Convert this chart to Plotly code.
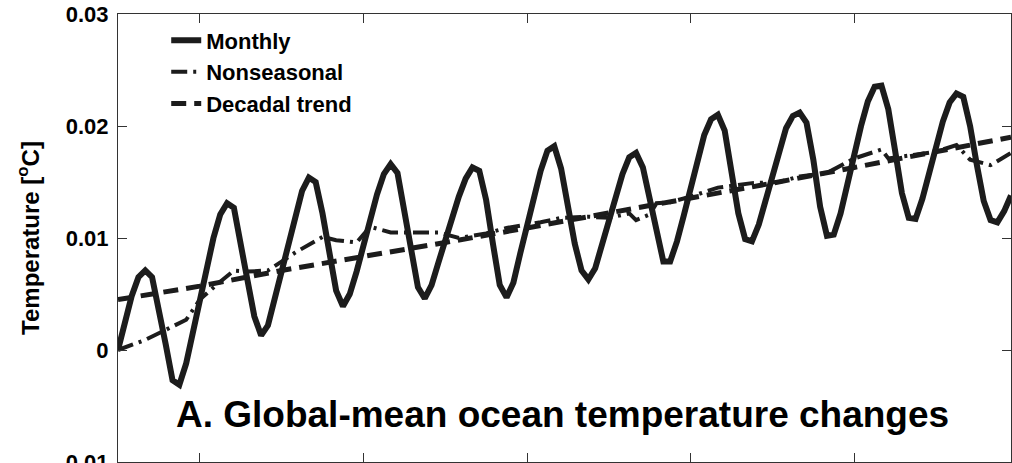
import plotly.graph_objects as go

# ---- data (months since start, temperature change in degC) ----
monthly_months = list(range(0, 132))
monthly_vals = [
    0.0000, 0.0025, 0.0048, 0.0065, 0.0071, 0.0065, 0.0038, 0.0005, -0.0027, -0.0031,
    -0.0012, 0.0015, 0.0045, 0.0074, 0.0100, 0.0121, 0.0131, 0.0127, 0.0097, 0.0062,
    0.0030, 0.0013, 0.0022, 0.0046, 0.0071, 0.0096, 0.0120, 0.0142, 0.0154, 0.0150,
    0.0122, 0.0087, 0.0053, 0.0039, 0.0050, 0.0070, 0.0093, 0.0117, 0.0139, 0.0157,
    0.0166, 0.0158, 0.0126, 0.0089, 0.0056, 0.0046, 0.0058, 0.0078, 0.0099, 0.0119,
    0.0137, 0.0153, 0.0163, 0.0160, 0.0134, 0.0095, 0.0058, 0.0047, 0.0060, 0.0086,
    0.0111, 0.0137, 0.0160, 0.0178, 0.0182, 0.0162, 0.0128, 0.0095, 0.0071, 0.0063,
    0.0073, 0.0094, 0.0116, 0.0138, 0.0157, 0.0172, 0.0176, 0.0163, 0.0134, 0.0102,
    0.0079, 0.0079, 0.0097, 0.0120, 0.0145, 0.0170, 0.0192, 0.0206, 0.0210, 0.0196,
    0.0160, 0.0122, 0.0099, 0.0097, 0.0112, 0.0133, 0.0156, 0.0179, 0.0198, 0.0209,
    0.0212, 0.0203, 0.0170, 0.0128, 0.0102, 0.0103, 0.0122, 0.0148, 0.0175, 0.0200,
    0.0222, 0.0235, 0.0236, 0.0215, 0.0178, 0.0140, 0.0118, 0.0117, 0.0135, 0.0158,
    0.0182, 0.0204, 0.0221, 0.0229, 0.0226, 0.0200, 0.0165, 0.0133, 0.0116, 0.0114,
    0.0124, 0.0138,
]

nonseasonal_months = [0, 4, 10, 12, 15, 17, 19, 22, 26, 30, 32, 35, 37, 40, 43, 47,
                      50, 54, 57, 62, 65, 69, 72, 75, 76, 78, 79, 81, 84, 88, 93, 97,
                      100, 104, 108, 112, 113, 117, 120, 123, 125, 128, 131]
nonseasonal_vals = [0.0000, 0.0009, 0.0027, 0.0045, 0.0061, 0.0071, 0.0070, 0.0071,
                    0.0087, 0.0101, 0.0098, 0.0096, 0.0110, 0.0105, 0.0105, 0.0105,
                    0.0100, 0.0104, 0.0109, 0.0114, 0.0118, 0.0119, 0.0118, 0.0122,
                    0.0116, 0.0121, 0.0131, 0.0132, 0.0137, 0.0145, 0.0149, 0.0150,
                    0.0155, 0.0158, 0.0171, 0.0179, 0.0171, 0.0174, 0.0177, 0.0183,
                    0.0170, 0.0165, 0.0176]

trend_months = [0, 12, 24, 36, 48, 60, 72, 84, 96, 108, 120, 131]
trend_vals = [0.0045, 0.0057, 0.0071, 0.0083, 0.0096, 0.0109, 0.0122, 0.0135,
              0.0149, 0.0163, 0.0177, 0.0190]

y_ticks = [-0.01, 0, 0.01, 0.02, 0.03]
y_tick_labels = ["-0.01", "0", "0.01", "0.02", "0.03"]
x_ticks = [12, 36, 60, 84, 108]

title_text = "A. Global-mean ocean temperature changes"
y_title = "Temperature [<sup>o</sup>C]"

FONT = "Liberation Sans, Arial, Helvetica, sans-serif"
INK = "#1c1c1c"

fig = go.Figure()
fig.add_trace(go.Scatter(
    x=monthly_months, y=monthly_vals, mode="lines", name="Monthly",
    line=dict(color=INK, width=6, shape="linear"),
))
fig.add_trace(go.Scatter(
    x=nonseasonal_months, y=nonseasonal_vals, mode="lines", name="Nonseasonal",
    line=dict(color=INK, width=4, dash="16px,6px,3px,6px"),
))
fig.add_trace(go.Scatter(
    x=trend_months, y=trend_vals, mode="lines", name="Decadal trend",
    line=dict(color=INK, width=5, dash="15px,8px"),
))

fig.add_annotation(
    x=65.2, y=-0.0058, xref="x", yref="y", text=title_text, showarrow=False,
    font=dict(family=FONT, size=37, color="black", weight="bold"),
    xanchor="center", yanchor="middle",
)

fig.update_layout(
    width=1012, height=463,
    margin=dict(l=118, r=1, t=14, b=1, autoexpand=False),
    paper_bgcolor="white", plot_bgcolor="white",
    font=dict(family=FONT, color="black"),
    showlegend=True,
    legend=dict(
        x=0.054, y=0.988, xanchor="left", yanchor="top",
        bgcolor="rgba(255,255,255,0)", borderwidth=0,
        font=dict(family=FONT, size=22, color="black", weight="bold"),
        tracegroupgap=0,
    ),
)
fig.update_xaxes(
    range=[0, 131], showgrid=False, zeroline=False,
    showline=True, linecolor="#333", linewidth=1, mirror="ticks",
    ticks="inside", ticklen=9, tickcolor="#333", tickvals=x_ticks,
    showticklabels=False, automargin=False,
)
fig.update_yaxes(
    range=[-0.01, 0.03], showgrid=False, zeroline=False,
    showline=True, linecolor="#333", linewidth=1, mirror="ticks",
    ticks="inside", ticklen=9, tickcolor="#333",
    tickvals=y_ticks, ticktext=y_tick_labels,
    tickfont=dict(family=FONT, size=22, color="black", weight="bold"),
    ticklabelstandoff=4, ticklabeloverflow="allow", automargin=False,
    title=dict(text=y_title, standoff=12,
               font=dict(family=FONT, size=24, color="black", weight="bold")),
)

fig.write_html("out.html", config={"displayModeBar": False},
               post_script="document.body.style.margin='0';")
